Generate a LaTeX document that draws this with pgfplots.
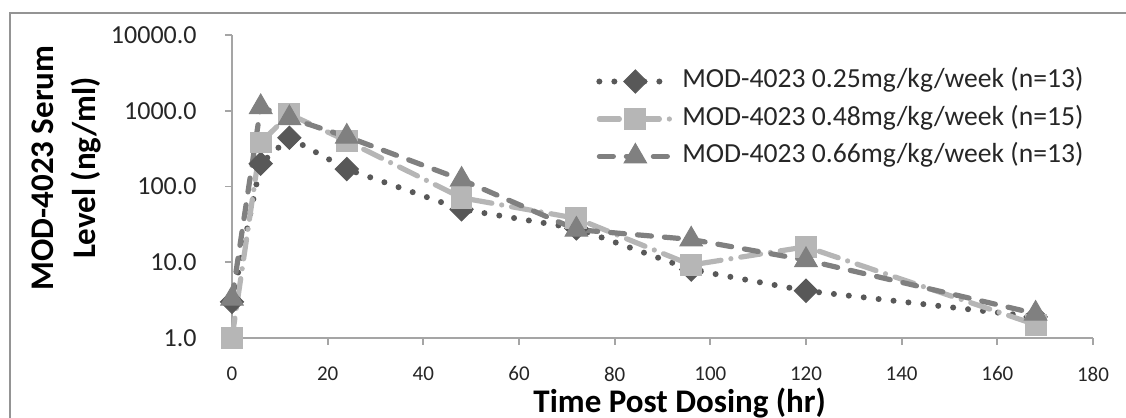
\documentclass[border=0pt]{standalone}
\usepackage{pgfplots}
\pgfplotsset{compat=1.18}
\usepackage{fontspec}
\setmainfont{Carlito}
\definecolor{cA}{RGB}{88,88,88}
\definecolor{cB}{RGB}{182,182,182}
\definecolor{cC}{RGB}{128,128,128}
\definecolor{axgray}{RGB}{165,165,165}
\begin{document}
\begin{tikzpicture}
\path[use as bounding box] (-116pt,-40pt) rectangle (447pt,169pt);
\draw[axgray!90!black, line width=1.2pt] (-111pt,-41pt) -- (-111pt,162.5pt) -- (448pt,162.5pt);
\begin{axis}[
  at={(0,0)}, anchor=south west,
  scale only axis, width=430.5pt, height=151.5pt,
  ymode=log, log basis y=10,
  xmin=0, xmax=180, ymin=1, ymax=10000,
  clip=false,
  axis x line=bottom, axis y line=left,
  axis line style={-, draw=axgray, line width=1pt},
  xtick={0,20,...,180},
  ytick={1,10,100,1000,10000},
  yticklabels={1.0,10.0,100.0,1000.0,10000.0},
  yminorticks=false,
  tick align=outside, major tick length=3.5pt,
  tick style={draw=axgray, line width=0.9pt},
  /pgf/number format/assume math mode=true,
  xticklabel style={font=\fontsize{10.5}{10.5}\selectfont, inner sep=0pt, anchor=north, yshift=-10.7pt, text=black!85},
  yticklabel style={font=\fontsize{13}{13}\selectfont, inner sep=0pt, anchor=east, xshift=-14pt, text=black!85},
  xlabel={Time Post Dosing (hr)},
  xlabel style={at={(rel axis cs:0.52,0)}, anchor=center, yshift=-32.5pt, font=\bfseries\fontsize{16.5}{16.5}\selectfont, inner sep=0pt},
  ylabel={MOD-4023 Serum\\Level (ng/ml)},
  ylabel style={at={(rel axis cs:-0.1928,0.561)}, anchor=center, align=center, font=\bfseries\fontsize{16.5}{21}\selectfont, inner sep=0pt},
  legend cell align=left,
  legend image code/.code={\draw[mark repeat=2,mark phase=2,#1] plot coordinates {(0pt,0pt) (18pt,0pt) (36pt,0pt)};},
  legend style={draw=none, fill=none, at={(rel axis cs:0.706,0.7228)}, anchor=center,
    font=\fontsize{13.8}{13.8}\selectfont, text=black!85,
    nodes={inner sep=0pt, text height=9.5pt, text depth=3.5pt},
    column sep=4pt, row sep=5.75pt, inner sep=0pt},
]
\addplot[color=cA, line width=3pt, line cap=round, dash pattern=on 0pt off 7.5pt,
  mark=square*, mark size=4.1pt, mark options={solid, rotate=45, fill=cA, draw=cA, line width=0.5pt}]
  coordinates {(0,3.0) (6,200) (12,440) (24,170) (48,50) (72,28) (96,8) (120,4.2) (168,1.9)};
\addlegendentry{MOD-4023 0.25mg/kg/week (n=13)}
\addplot[color=cB, line width=2.6pt, line cap=round, dash pattern=on 10pt off 5pt on 0pt off 5pt,
  mark=square*, mark size=5.2pt, mark options={solid, fill=cB, draw=cB, line width=0.5pt}]
  coordinates {(0,1.0) (6,380) (12,900) (24,400) (48,71) (72,38) (96,9.2) (120,16) (168,1.5)};
\addlegendentry{MOD-4023 0.48mg/kg/week (n=15)}
\addplot[color=cC, line width=2.6pt, line cap=round, dash pattern=on 7pt off 6.5pt,
  mark=triangle*, mark size=6.5pt, mark options={solid, fill=cC, draw=cC, line width=0.5pt}]
  coordinates {(0,3.3) (6,1120) (12,800) (24,455) (48,123) (72,27) (96,20) (120,10.7) (168,2.1)};
\addlegendentry{MOD-4023 0.66mg/kg/week (n=13)}
\end{axis}
\end{tikzpicture}
\end{document}
